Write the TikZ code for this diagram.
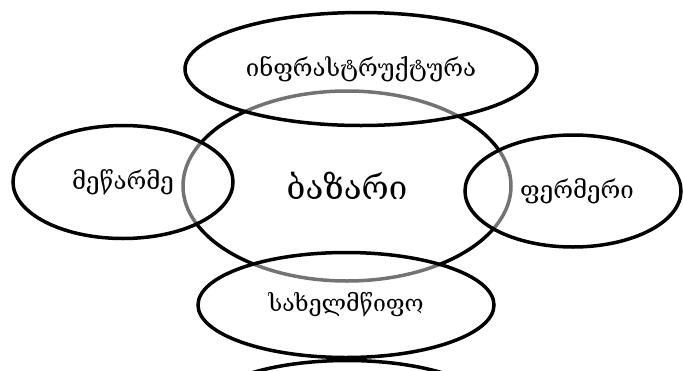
\documentclass[tikz,border=0pt]{standalone}
\usepackage{fontspec}
\setmainfont{DejaVu Serif}
\usetikzlibrary{shapes.geometric}
\begin{document}
\begin{tikzpicture}[x=1pt,y=-1pt,
  oval/.style={draw=black, line width=3.5pt, ellipse, inner sep=0pt,
    fill=white, fill opacity=0.45, text opacity=1, font=\fontsize{24}{28}\selectfont},
  core/.style={draw=black, line width=3.5pt, ellipse, inner sep=0pt,
    fill=white, font=\fontsize{33}{38}\selectfont}]
\useasboundingbox (0,0) rectangle (683,370);
\node[core, minimum width=328pt, minimum height=190pt] (baz) at (347,186) {ბაზარი};
\node[oval, minimum width=352pt, minimum height=113pt] (infra) at (361,69) {ინფრასტრუქტურა};
\node[oval, minimum width=220pt, minimum height=113pt] (mez) at (123,182) {მეწარმე};
\node[oval, minimum width=216pt, minimum height=112pt] (ferm) at (573,191) {\hspace*{8pt}ფერმერი};
\node[oval, minimum width=296pt, minimum height=105pt, font=\fontsize{23}{27}\selectfont] (sax) at (346,305) {სახელმწიფო};
\node[oval, minimum width=296pt, minimum height=105pt] (extra) at (347,413) {};
\end{tikzpicture}
\end{document}
